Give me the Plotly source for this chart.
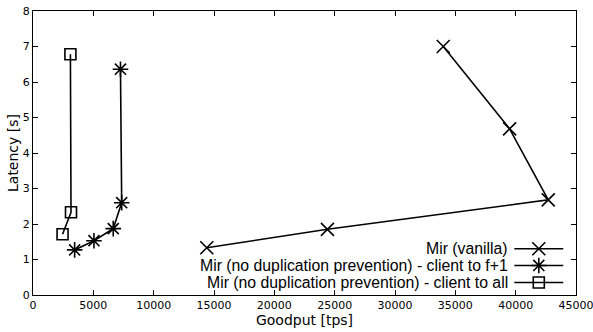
import plotly.graph_objects as go

vanilla_x = [14400, 24400, 42700, 39500, 34000]
vanilla_y = [1.33, 1.85, 2.68, 4.68, 7.0]
f1_x = [3450, 5050, 6650, 7350, 7250]
f1_y = [1.27, 1.53, 1.87, 2.6, 6.36]
all_x = [2450, 3150, 3100]
all_y = [1.71, 2.33, 6.78]
names = ["Mir (vanilla)",
         "Mir (no duplication prevention) - client to f+1",
         "Mir (no duplication prevention) - client to all"]
symbols = ["x-thin-open", "asterisk-open", "square-open"]
sizes = [13, 13, 11]

FONT = "DejaVu Sans"
LFONT = "Liberation Sans"
fig = go.Figure()
series = [(vanilla_x, vanilla_y), (f1_x, f1_y), (all_x, all_y)]
for (xs, ys), sym, sz in zip(series, symbols, sizes):
    fig.add_trace(go.Scatter(x=xs, y=ys, mode="lines+markers",
                             line=dict(color="black", width=1.6),
                             marker=dict(symbol=sym, size=sz, color="black",
                                         line=dict(color="black", width=1.6)),
                             showlegend=False, cliponaxis=False))

# custom legend (sample on the right of the text) on an overlay axis in 0..1 units
leg_y = [0.163, 0.104, 0.044]
for name, sym, sz, yy in zip(names, symbols, sizes, leg_y):
    fig.add_trace(go.Scatter(x=[0.8865, 0.9765], y=[yy, yy], xaxis="x2", yaxis="y2",
                             mode="lines", line=dict(color="black", width=1.6),
                             showlegend=False, hoverinfo="skip"))
    fig.add_trace(go.Scatter(x=[0.9315], y=[yy], xaxis="x2", yaxis="y2",
                             mode="markers",
                             marker=dict(symbol=sym, size=sz, color="black",
                                         line=dict(color="black", width=1.6)),
                             showlegend=False, hoverinfo="skip"))
    fig.add_annotation(x=0.879, y=yy, xref="x2", yref="y2", text=name,
                       showarrow=False, xanchor="right", yanchor="middle",
                       font=dict(family=LFONT, size=15.8, color="black"))

axis_common = dict(showgrid=False, zeroline=False, showline=True, linecolor="black",
                   linewidth=1, mirror="allticks", ticks="inside", ticklen=5,
                   tickcolor="black", automargin=False, ticklabeloverflow="allow",
                   tickfont=dict(family=FONT, size=11, color="black"))
fig.update_layout(
    width=593, height=332,
    margin=dict(l=33, r=17, t=11, b=37),
    plot_bgcolor="white", paper_bgcolor="white",
    xaxis=dict(range=[0, 45000], dtick=5000, tickformat="d",
               title=dict(text="Goodput [tps]", font=dict(family=FONT, size=14, color="black"),
                          standoff=0),
               **axis_common),
    yaxis=dict(range=[0, 8], dtick=1,
               title=dict(text="Latency [s]", font=dict(family=FONT, size=14, color="black"),
                          standoff=0),
               **axis_common),
    xaxis2=dict(range=[0, 1], overlaying="x", visible=False),
    yaxis2=dict(range=[0, 1], overlaying="y", visible=False),
)
fig.write_html("out.html", config={"displayModeBar": False},
               post_script="document.body.style.margin='0';document.body.style.overflow='hidden';")
